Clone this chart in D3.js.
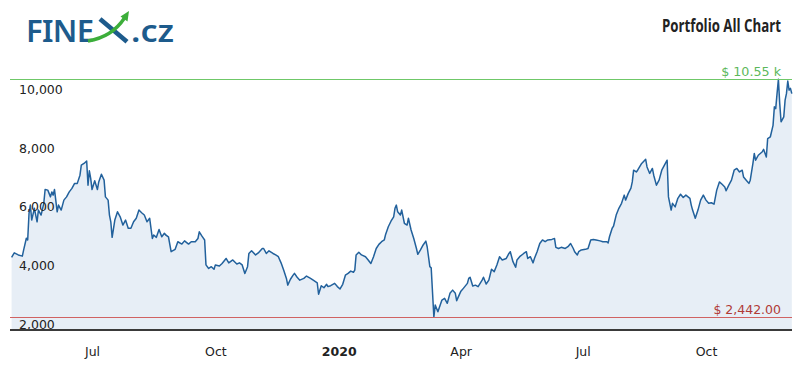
<!DOCTYPE html>
<html>
<head>
<meta charset="utf-8">
<script src="https://cdn.jsdelivr.net/npm/d3@7/dist/d3.min.js"></script>
<style>
  html, body { margin: 0; padding: 0; background: #fff; }
  svg { display: block; }
</style>
</head>
<body>
<svg id="chart" width="800" height="375"></svg>
<script>
// ---------- DATA ----------
const dates = [
"2019-05-02","2019-05-04","2019-05-07","2019-05-10","2019-05-11","2019-05-13","2019-05-14","2019-05-15","2019-05-16","2019-05-17",
"2019-05-19","2019-05-21","2019-05-22","2019-05-24","2019-05-26","2019-05-27","2019-05-29","2019-05-31","2019-06-01","2019-06-02",
"2019-06-03","2019-06-05","2019-06-06","2019-06-08","2019-06-10","2019-06-12","2019-06-14","2019-06-16","2019-06-18","2019-06-20",
"2019-06-22","2019-06-23","2019-06-25","2019-06-27","2019-06-28","2019-06-29","2019-06-30","2019-07-01","2019-07-03","2019-07-05",
"2019-07-06","2019-07-08","2019-07-10","2019-07-11","2019-07-13","2019-07-14","2019-07-15","2019-07-16","2019-07-18","2019-07-20",
"2019-07-22","2019-07-24","2019-07-26","2019-07-28","2019-07-30","2019-08-01","2019-08-03","2019-08-05","2019-08-07","2019-08-09",
"2019-08-11","2019-08-13","2019-08-15","2019-08-16","2019-08-18","2019-08-20","2019-08-22","2019-08-24","2019-08-25","2019-08-27",
"2019-08-29","2019-09-01","2019-09-03","2019-09-06","2019-09-08","2019-09-11","2019-09-13","2019-09-16","2019-09-18","2019-09-19",
"2019-09-21","2019-09-23","2019-09-24","2019-09-26","2019-09-28","2019-09-30","2019-10-01","2019-10-04","2019-10-06","2019-10-09",
"2019-10-11","2019-10-14","2019-10-17","2019-10-19","2019-10-21","2019-10-23","2019-10-25","2019-10-26","2019-10-28","2019-10-31",
"2019-11-02","2019-11-05","2019-11-06","2019-11-08","2019-11-10","2019-11-13","2019-11-15","2019-11-17","2019-11-19","2019-11-21",
"2019-11-23","2019-11-24","2019-11-26","2019-11-28","2019-11-29","2019-12-01","2019-12-03","2019-12-06","2019-12-08","2019-12-11",
"2019-12-13","2019-12-16","2019-12-17","2019-12-19","2019-12-21","2019-12-23","2019-12-24","2019-12-26","2019-12-29","2019-12-31",
"2020-01-02","2020-01-04","2020-01-06","2020-01-08","2020-01-10","2020-01-12","2020-01-13","2020-01-14","2020-01-16","2020-01-18",
"2020-01-21","2020-01-23","2020-01-25","2020-01-27","2020-01-29","2020-01-31","2020-02-02","2020-02-04","2020-02-05","2020-02-07",
"2020-02-09","2020-02-11","2020-02-12","2020-02-13","2020-02-14","2020-02-16","2020-02-17","2020-02-19","2020-02-21","2020-02-22",
"2020-02-24","2020-02-26","2020-02-28","2020-02-29","2020-03-02","2020-03-04","2020-03-06","2020-03-07","2020-03-09","2020-03-10",
"2020-03-12","2020-03-13","2020-03-15","2020-03-18","2020-03-20","2020-03-22","2020-03-24","2020-03-26","2020-03-28","2020-03-29",
"2020-04-01","2020-04-03","2020-04-06","2020-04-07","2020-04-08","2020-04-10","2020-04-12","2020-04-14","2020-04-17","2020-04-18",
"2020-04-20","2020-04-22","2020-04-24","2020-04-26","2020-04-28","2020-04-30","2020-05-02","2020-05-05","2020-05-07","2020-05-08",
"2020-05-10","2020-05-12","2020-05-13","2020-05-15","2020-05-18","2020-05-20","2020-05-21","2020-05-23","2020-05-25","2020-05-26",
"2020-05-28","2020-05-30","2020-06-01","2020-06-03","2020-06-05","2020-06-08","2020-06-10","2020-06-11","2020-06-13","2020-06-15",
"2020-06-18","2020-06-20","2020-06-22","2020-06-24","2020-06-25","2020-06-27","2020-06-28","2020-06-30","2020-07-03","2020-07-05",
"2020-07-07","2020-07-09","2020-07-11","2020-07-14","2020-07-16","2020-07-19","2020-07-20","2020-07-21","2020-07-23","2020-07-24",
"2020-07-26","2020-07-28","2020-07-30","2020-08-01","2020-08-02","2020-08-04","2020-08-06","2020-08-07","2020-08-08","2020-08-10",
"2020-08-11","2020-08-14","2020-08-17","2020-08-18","2020-08-20","2020-08-22","2020-08-23","2020-08-25","2020-08-27","2020-08-29",
"2020-08-31","2020-09-02","2020-09-03","2020-09-05","2020-09-06","2020-09-08","2020-09-10","2020-09-12","2020-09-14","2020-09-16",
"2020-09-19","2020-09-20","2020-09-21","2020-09-23","2020-09-25","2020-09-27","2020-09-29","2020-10-01","2020-10-03","2020-10-05",
"2020-10-07","2020-10-09","2020-10-11","2020-10-13","2020-10-15","2020-10-16","2020-10-18","2020-10-20","2020-10-22","2020-10-24",
"2020-10-26","2020-10-28","2020-10-29","2020-10-31","2020-11-02","2020-11-03","2020-11-05","2020-11-06","2020-11-07","2020-11-09",
"2020-11-12","2020-11-13","2020-11-15","2020-11-16","2020-11-18","2020-11-20","2020-11-21","2020-11-22","2020-11-23","2020-11-24",
"2020-11-25","2020-11-26","2020-11-28","2020-11-29","2020-11-30","2020-12-01","2020-12-02","2020-12-03","2020-12-04"
];
const values = [
4480,4630,4560,4520,4730,5130,5070,5980,6260,5750,
6150,5690,6090,5920,6320,6790,6770,6540,6710,6600,
6790,6030,6260,6090,6430,6540,6710,6830,7000,7000,
7280,7620,7680,7760,6940,7430,7170,6790,7090,6790,
7050,7310,7110,6540,6430,5920,5690,5160,5750,6030,
5860,5580,5750,5470,5470,5690,5810,6090,6000,5920,
5690,5810,5120,5240,5160,5430,5180,5300,5240,5180,
4670,4750,5010,4930,5040,4930,5010,5010,5120,5350,
5200,5070,4220,4100,4160,4070,4220,4180,4270,4440,
4290,4390,4250,4290,4220,3930,4160,4610,4700,4560,
4630,4780,4780,4610,4700,4610,4560,4500,4290,4040,
3760,3530,3730,3870,3930,3800,3700,3760,3840,3760,
3700,3610,3220,3510,3440,3560,3480,3510,3590,3480,
3400,3560,3870,3930,4010,3970,4040,4560,4650,4560,
4500,4390,4270,4500,4780,4920,5010,5070,5260,5520,
5710,5860,6150,6260,6030,5920,6090,5640,5580,5810,
5410,5120,4780,4580,4730,4900,5030,4840,4160,4120,
2442,2850,2620,3020,3080,2910,3250,3360,3250,3000,
3310,3420,3590,3760,3800,3500,3530,3480,3700,3800,
3570,3700,4070,3990,4220,4500,4390,4440,4610,4670,
4330,4140,4390,4500,4610,4670,4440,4500,4290,4440,
4670,4950,5070,5010,5070,5090,5120,4820,4780,4820,
4780,4840,4950,4780,4670,4560,4670,4730,4750,4780,
5070,5090,5070,5040,5010,5010,4970,5180,5470,5540,
5920,6150,6320,6600,6430,6660,6840,7050,7450,7390,
7450,7680,7820,7560,7340,7510,7280,6940,7110,7450,
7620,7790,6540,6090,6320,6200,6490,6630,6520,6600,
6490,6260,6090,5810,6090,6430,6600,6430,6320,6340,
6290,6770,7050,6970,6880,6750,6940,7110,7450,7510,
7390,7450,7220,7110,7000,7110,7680,8020,7790,7960,
8080,8160,7900,8530,8590,8980,9610,9550,10060,10550,
9720,9100,9270,9840,10060,10490,10180,10240,10060
];
const yTicks = [2000, 4000, 6000, 8000, 10000];
const xTickDates = ["2019-07-01","2019-10-01","2020-01-01","2020-04-01","2020-07-01","2020-10-01"];
const xTickLabels = ["Jul","Oct","2020","Apr","Jul","Oct"];
const titleText = "Portfolio All Chart";
const yMin = 2000;

// ---------- CHART ----------
const parse = d3.utcParse("%Y-%m-%d");
const data = dates.map((d, i) => ({ date: parse(d), value: values[i] }));
const hi = d3.max(values), lo = d3.min(values);

const svg = d3.select("#chart");
const FONT = "'DejaVu Sans', Verdana, sans-serif";

const x = d3.scaleUtc()
  .domain(d3.extent(data, d => d.date))
  .range([11.6, 791.8]);
const y = d3.scaleLinear()
  .domain([yMin, hi])
  .range([330, 79.3]);

// area + line
svg.append("path")
  .datum(data)
  .attr("fill", "#e7eef6")
  .attr("d", d3.area().x(d => x(d.date)).y0(y(yMin)).y1(d => y(d.value)));

svg.append("path")
  .datum(data)
  .attr("fill", "none")
  .attr("stroke", "#22619c")
  .attr("stroke-width", 1.5)
  .attr("stroke-linejoin", "round")
  .attr("d", d3.line().x(d => x(d.date)).y(d => y(d.value)));

// high / low lines
const xl = 10, xr = 792;
svg.append("line").attr("x1", xl).attr("x2", xr)
  .attr("y1", Math.round(y(hi)) + 0.5).attr("y2", Math.round(y(hi)) + 0.5)
  .attr("stroke", "#6fc868").attr("stroke-width", 1);
svg.append("line").attr("x1", xl).attr("x2", xr)
  .attr("y1", Math.round(y(lo)) + 0.5).attr("y2", Math.round(y(lo)) + 0.5)
  .attr("stroke", "#d06262").attr("stroke-width", 1);

svg.append("text")
  .attr("x", 781).attr("y", y(hi) - 3)
  .attr("text-anchor", "end")
  .attr("font-family", FONT).attr("font-size", 12.7)
  .attr("fill", "#5cb85a")
  .text("$ " + d3.format(".2f")(hi / 1000) + " k");
svg.append("text")
  .attr("x", 781).attr("y", y(lo) - 3)
  .attr("text-anchor", "end")
  .attr("font-family", FONT).attr("font-size", 12.5)
  .attr("fill", "#b03a36")
  .text("$ " + d3.format(",.2f")(lo));

// y axis (labels inside plot, above value)
const yAxis = svg.append("g")
  .attr("transform", "translate(19,0)")
  .call(d3.axisRight(y).tickValues(yTicks).tickSize(0).tickPadding(0).tickFormat(d3.format(",")));
yAxis.select(".domain").remove();
yAxis.selectAll("text")
  .attr("dy", -2)
  .attr("font-family", FONT).attr("font-size", 12.5)
  .attr("fill", "#222");

// x axis
const xAxis = svg.append("g")
  .attr("transform", "translate(0,330)")
  .call(d3.axisBottom(x)
    .tickValues(xTickDates.map(parse))
    .tickSize(0).tickSizeOuter(0).tickPadding(17.5)
    .tickFormat((d, i) => xTickLabels[i]));
xAxis.select(".domain")
  .attr("d", `M${xl},0H${xr}`)
  .attr("stroke", "#3a3a3a").attr("stroke-width", 2);
xAxis.selectAll("text")
  .attr("font-family", FONT).attr("font-size", 12.5)
  .attr("fill", "#222")
  .attr("font-weight", (d, i) => xTickLabels[i] === "2020" ? "bold" : "normal");

// title (condensed by horizontal scaling to the reference width)
const title = svg.append("text")
  .attr("x", 0).attr("y", 0)
  .attr("font-family", "'Open Sans', sans-serif")
  .attr("font-weight", "bold").attr("font-size", 17)
  .attr("fill", "#222")
  .text(titleText);
const tw = title.node().getComputedTextLength();
title.attr("transform", `translate(662,31.7) scale(${119 / tw},1)`);

// logo
const logo = svg.append("g");
const BLUE = "#1d5b8c", GREEN = "#3cae3a";
logo.append("text")
  .attr("x", 26).attr("y", 41.7)
  .attr("font-family", "'Noto Sans', sans-serif").attr("font-weight", 600)
  .attr("font-size", 31).attr("fill", BLUE)
  .attr("textLength", 68).attr("lengthAdjust", "spacing")
  .text("FINE");
logo.append("path")
  .attr("d", "M100,19 L127,41.7")
  .attr("stroke", BLUE).attr("stroke-width", 4.6).attr("fill", "none");
logo.append("path")
  .attr("d", "M88,41 Q112,37 124.5,18")
  .attr("stroke", GREEN).attr("stroke-width", 3.4).attr("fill", "none");
logo.append("path")
  .attr("d", "M129,11 L127.5,21.5 L120.5,16.5 Z")
  .attr("fill", GREEN);
logo.append("text")
  .attr("x", 131).attr("y", 41.7)
  .attr("font-family", "'Noto Sans', sans-serif").attr("font-weight", 600)
  .attr("font-size", 31).attr("fill", BLUE)
  .attr("textLength", 43).attr("lengthAdjust", "spacingAndGlyphs")
  .text(".cz");
</script>
</body>
</html>
